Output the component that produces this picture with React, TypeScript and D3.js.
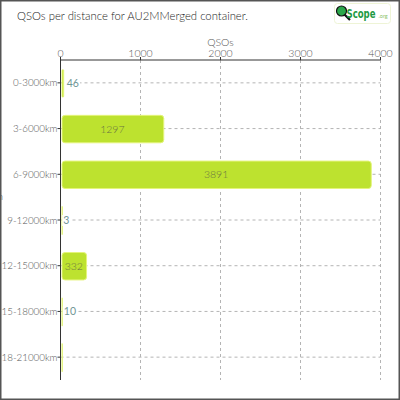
import React, { useMemo } from "react";
import * as d3 from "d3";

const categories = [
  "0-3000km",
  "3-6000km",
  "6-9000km",
  "9-12000km",
  "12-15000km",
  "15-18000km",
  "18-21000km",
];
const qsos = [46, 1297, 3891, 3, 332, 10, 0];
const xTicks = [0, 1000, 2000, 3000, 4000];

const font = "Lato, 'Open Sans', sans-serif";
const barFill = "#bde22f";
const barStroke = "#e4f47a";

const App = () => {
  const width = 400;
  const height = 400;
  const marginTop = 60;
  const marginLeft = 60.5;
  const plotRight = 380.5;
  const plotBottom = 380;

  const x = useMemo(
    () => d3.scaleLinear([0, 4000], [marginLeft, plotRight]),
    []
  );
  const y = useMemo(
    () =>
      d3
        .scaleBand<string>()
        .domain(categories)
        .range([marginTop, plotBottom])
        .paddingInner(0.4)
        .paddingOuter(0.2),
    []
  );
  const bw = y.bandwidth();

  return (
    <svg
      width={width}
      height={height}
      style={{ position: "absolute", top: 0, left: 0, fontFamily: font }}
    >
      <rect x={0} y={0} width={width} height={height} fill="#fff" />
      <rect
        x={0.75}
        y={0.75}
        width={width - 1.5}
        height={height - 1.5}
        fill="none"
        stroke="#555"
        strokeWidth={1.5}
      />

      {/* title */}
      <text x={17} y={20} fontSize={11.3} fill="#222" fontWeight={300}>
        QSOs per distance for AU2MMerged container.
      </text>

      {/* logo */}
      <g>
        <rect
          x={334.5}
          y={3.5}
          width={56}
          height={20}
          rx={3}
          fill="#fff"
          stroke="#eef4d6"
        />
        <line x1={343} y1={13} x2={350} y2={20} stroke="#111" strokeWidth={2.2} />
        <circle cx={341.5} cy={11} r={5} fill="#2aa84a" stroke="#111" strokeWidth={1.2} />
        <text
          x={346.5}
          y={18}
          fontSize={12}
          fontWeight={700}
          fill="#1e9a44"
          textLength={29}
          lengthAdjust="spacingAndGlyphs"
          fontFamily="'DejaVu Sans Condensed', 'Liberation Sans Narrow', sans-serif"
        >
          Scope
        </text>
        <text x={378.5} y={18} fontSize={5.5} fill="#8cc36a">
          .org
        </text>
      </g>

      {/* grid */}
      <g stroke="#b4b4b4" strokeDasharray="3,3" strokeWidth={1}>
        {xTicks.slice(1).map((t) => (
          <line key={t} x1={x(t)} x2={x(t)} y1={marginTop} y2={plotBottom} />
        ))}
        {categories.map((c) => {
          const cy = (y(c) as number) + bw / 2;
          return <line key={c} x1={marginLeft} x2={plotRight} y1={cy} y2={cy} />;
        })}
      </g>

      {/* bars */}
      <g>
        {categories.map((c, i) => {
          const w = Math.max(0, x(qsos[i]) - x(0) - 2);
          return (
            <rect
              key={c}
              x={x(0) + 1.5}
              y={(y(c) as number) + 0.5}
              width={Math.max(w, 0.3)}
              height={bw}
              rx={Math.min(3, w / 2)}
              fill={barFill}
              stroke={barStroke}
              strokeWidth={1}
            />
          );
        })}
      </g>

      {/* value labels */}
      <g fontSize={10.5} fontWeight={300}>
        {categories.map((c, i) => {
          const v = qsos[i];
          if (!v) return null;
          const cy = (y(c) as number) + bw / 2 + 4;
          const barW = x(v) - x(0);
          const labelW = String(v).length * 6.2 + 4;
          if (barW > labelW) {
            return (
              <text
                key={c}
                x={x(0) + barW / 2}
                y={cy}
                textAnchor="middle"
                fill="#6a7242"
              >
                {v}
              </text>
            );
          }
          const lx = x(v) + 2.5;
          return (
            <g key={c}>
              <rect
                x={lx - 1}
                y={cy - 9}
                width={labelW - 2}
                height={11}
                fill="#fff"
              />
              <text x={lx} y={cy} fill="#6f9696" fontWeight={400}>
                {v}
              </text>
            </g>
          );
        })}
      </g>

      {/* y axis */}
      <g>
        <line x1={marginLeft} x2={marginLeft} y1={marginTop} y2={plotBottom} stroke="#333" />
        {categories.map((c) => {
          const cy = (y(c) as number) + bw / 2;
          return (
            <g key={c}>
              <line x1={marginLeft - 3} x2={marginLeft} y1={cy} y2={cy} stroke="#333" />
              <text
                x={marginLeft - 3}
                y={cy + 3.5}
                textAnchor="end"
                fontSize={9.8}
                fontWeight={300}
                fill="#555"
              >
                {c}
              </text>
            </g>
          );
        })}
        <text x={-2} y={200} fontSize={9} fill="#555" fontWeight={300}>
          n
        </text>
      </g>

      {/* x axis */}
      <g>
        <line x1={marginLeft} x2={plotRight} y1={marginTop} y2={marginTop} stroke="#333" />
        {xTicks.map((t) => (
          <g key={t}>
            <line x1={x(t)} x2={x(t)} y1={marginTop - 3} y2={marginTop} stroke="#333" />
            <text
              x={x(t)}
              y={marginTop - 3}
              textAnchor="middle"
              fontSize={10.5}
              fontWeight={300}
              fill="#555"
            >
              {t}
            </text>
          </g>
        ))}
        <text
          x={(marginLeft + plotRight) / 2}
          y={46}
          textAnchor="middle"
          fontSize={10.5}
          fontWeight={300}
          fill="#555"
        >
          QSOs
        </text>
      </g>
    </svg>
  );
};

export default App;
